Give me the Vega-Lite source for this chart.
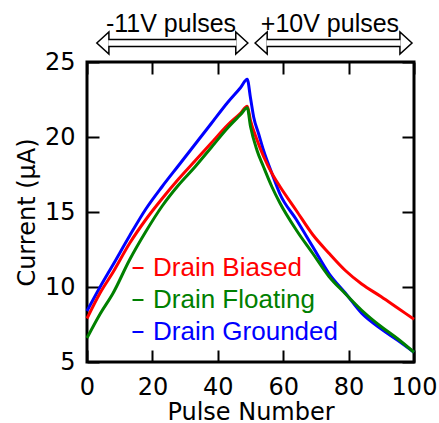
{
  "$schema": "https://vega.github.io/schema/vega-lite/v6.json",
  "width": 327,
  "height": 300,
  "autosize": {"type": "none"},
  "padding": {"left": 87, "top": 62, "right": 25, "bottom": 61},
  "background": "white",
  "config": {
    "view": {"stroke": "black", "strokeWidth": 3},
    "axis": {
      "grid": false,
      "domain": false,
      "tickColor": "black",
      "tickWidth": 2,
      "labelFont": "DejaVu Sans",
      "labelFontSize": 24,
      "labelColor": "black",
      "labelFlush": false,
      "labelOverlap": false,
      "titleFont": "DejaVu Sans",
      "titleFontSize": 24,
      "titleFontWeight": "normal",
      "titleColor": "black"
    }
  },
  "datasets": {
    "curves": [
      {"pulse": 0, "current": 8.4, "series": "Drain Grounded"},
      {"pulse": 4, "current": 10.0, "series": "Drain Grounded"},
      {"pulse": 8, "current": 11.5, "series": "Drain Grounded"},
      {"pulse": 13, "current": 13.4, "series": "Drain Grounded"},
      {"pulse": 18, "current": 15.2, "series": "Drain Grounded"},
      {"pulse": 23, "current": 16.7, "series": "Drain Grounded"},
      {"pulse": 28, "current": 18.1, "series": "Drain Grounded"},
      {"pulse": 33, "current": 19.5, "series": "Drain Grounded"},
      {"pulse": 38, "current": 20.9, "series": "Drain Grounded"},
      {"pulse": 43, "current": 22.3, "series": "Drain Grounded"},
      {"pulse": 47, "current": 23.3, "series": "Drain Grounded"},
      {"pulse": 49, "current": 23.85, "series": "Drain Grounded"},
      {"pulse": 50, "current": 22.6, "series": "Drain Grounded"},
      {"pulse": 51, "current": 21.3, "series": "Drain Grounded"},
      {"pulse": 52.5, "current": 20.2, "series": "Drain Grounded"},
      {"pulse": 54, "current": 19.1, "series": "Drain Grounded"},
      {"pulse": 56.5, "current": 17.6, "series": "Drain Grounded"},
      {"pulse": 59, "current": 16.2, "series": "Drain Grounded"},
      {"pulse": 64, "current": 14.5, "series": "Drain Grounded"},
      {"pulse": 69, "current": 12.7, "series": "Drain Grounded"},
      {"pulse": 74, "current": 10.9, "series": "Drain Grounded"},
      {"pulse": 79, "current": 9.6, "series": "Drain Grounded"},
      {"pulse": 84, "current": 8.25, "series": "Drain Grounded"},
      {"pulse": 90, "current": 7.2, "series": "Drain Grounded"},
      {"pulse": 95, "current": 6.45, "series": "Drain Grounded"},
      {"pulse": 100, "current": 5.65, "series": "Drain Grounded"},
      {"pulse": 0, "current": 7.9, "series": "Drain Biased"},
      {"pulse": 4, "current": 9.6, "series": "Drain Biased"},
      {"pulse": 8, "current": 11.0, "series": "Drain Biased"},
      {"pulse": 13, "current": 12.9, "series": "Drain Biased"},
      {"pulse": 18, "current": 14.5, "series": "Drain Biased"},
      {"pulse": 23, "current": 15.9, "series": "Drain Biased"},
      {"pulse": 28, "current": 17.2, "series": "Drain Biased"},
      {"pulse": 33, "current": 18.4, "series": "Drain Biased"},
      {"pulse": 38, "current": 19.6, "series": "Drain Biased"},
      {"pulse": 43, "current": 20.8, "series": "Drain Biased"},
      {"pulse": 47, "current": 21.6, "series": "Drain Biased"},
      {"pulse": 49, "current": 22.05, "series": "Drain Biased"},
      {"pulse": 50, "current": 21.1, "series": "Drain Biased"},
      {"pulse": 52, "current": 19.8, "series": "Drain Biased"},
      {"pulse": 54, "current": 18.7, "series": "Drain Biased"},
      {"pulse": 57, "current": 17.4, "series": "Drain Biased"},
      {"pulse": 59, "current": 16.7, "series": "Drain Biased"},
      {"pulse": 64, "current": 15.1, "series": "Drain Biased"},
      {"pulse": 69, "current": 13.5, "series": "Drain Biased"},
      {"pulse": 74, "current": 12.25, "series": "Drain Biased"},
      {"pulse": 79, "current": 11.1, "series": "Drain Biased"},
      {"pulse": 84, "current": 10.2, "series": "Drain Biased"},
      {"pulse": 90, "current": 9.35, "series": "Drain Biased"},
      {"pulse": 95, "current": 8.6, "series": "Drain Biased"},
      {"pulse": 100, "current": 7.85, "series": "Drain Biased"},
      {"pulse": 0, "current": 6.6, "series": "Drain Floating"},
      {"pulse": 4, "current": 8.2, "series": "Drain Floating"},
      {"pulse": 8, "current": 9.6, "series": "Drain Floating"},
      {"pulse": 13, "current": 11.8, "series": "Drain Floating"},
      {"pulse": 18, "current": 13.7, "series": "Drain Floating"},
      {"pulse": 23, "current": 15.4, "series": "Drain Floating"},
      {"pulse": 28, "current": 16.8, "series": "Drain Floating"},
      {"pulse": 33, "current": 18.0, "series": "Drain Floating"},
      {"pulse": 38, "current": 19.3, "series": "Drain Floating"},
      {"pulse": 43, "current": 20.6, "series": "Drain Floating"},
      {"pulse": 47, "current": 21.5, "series": "Drain Floating"},
      {"pulse": 49, "current": 21.95, "series": "Drain Floating"},
      {"pulse": 50, "current": 20.7, "series": "Drain Floating"},
      {"pulse": 52, "current": 19.1, "series": "Drain Floating"},
      {"pulse": 54, "current": 18.0, "series": "Drain Floating"},
      {"pulse": 56.5, "current": 16.7, "series": "Drain Floating"},
      {"pulse": 59, "current": 15.6, "series": "Drain Floating"},
      {"pulse": 64, "current": 13.8, "series": "Drain Floating"},
      {"pulse": 69, "current": 12.25, "series": "Drain Floating"},
      {"pulse": 74, "current": 10.7, "series": "Drain Floating"},
      {"pulse": 79, "current": 9.55, "series": "Drain Floating"},
      {"pulse": 84, "current": 8.45, "series": "Drain Floating"},
      {"pulse": 90, "current": 7.35, "series": "Drain Floating"},
      {"pulse": 95, "current": 6.55, "series": "Drain Floating"},
      {"pulse": 100, "current": 5.65, "series": "Drain Floating"}
    ],
    "arrows": [
      {"label": "-11V pulses", "tipL": 3.0, "tipR": 49.2, "shaftL": 6.5, "shaftR": 45.7, "mid": 25.7},
      {"label": "+10V pulses", "tipL": 51.4, "tipR": 99.4, "shaftL": 54.9, "shaftR": 95.9, "mid": 74.3}
    ]
  },
  "resolve": {"axis": {"x": "independent", "y": "independent"}},
  "layer": [
    {
      "data": {"name": "curves"},
      "mark": {"type": "line", "strokeWidth": 3, "interpolate": "monotone"},
      "encoding": {
        "x": {
          "field": "pulse", "type": "quantitative",
          "scale": {"domain": [0, 100], "nice": false, "zero": false},
          "axis": {"orient": "bottom", "values": [0, 20, 40, 60, 80, 100], "title": "Pulse Number", "ticks": false, "labelPadding": 13, "titlePadding": 1}
        },
        "y": {
          "field": "current", "type": "quantitative",
          "scale": {"domain": [5, 25], "nice": false, "zero": false},
          "axis": {"orient": "left", "values": [5, 10, 15, 20, 25], "title": "Current (μA)", "ticks": false, "labelPadding": 12, "titlePadding": 5}
        },
        "color": {
          "field": "series", "type": "nominal",
          "scale": {"domain": ["Drain Biased", "Drain Floating", "Drain Grounded"], "range": ["#ff0000", "#008000", "#0000ff"]},
          "legend": {
            "orient": "none", "legendX": 38, "legendY": 193, "title": null,
            "symbolType": "stroke", "symbolSize": 120, "symbolStrokeWidth": 2,
            "labelFont": "Liberation Sans", "labelFontSize": 26, "labelOffset": 2, "labelLimit": 0,
            "rowPadding": 6, "padding": 0,
            "encode": {"labels": {"update": {"fill": {"scale": "color", "field": "value"}}}}
          }
        }
      }
    },
    {
      "data": {"name": "curves"},
      "mark": {"type": "point", "opacity": 0},
      "encoding": {
        "x": {"field": "pulse", "type": "quantitative", "axis": {"orient": "bottom", "offset": -12, "tickSize": 12, "values": [0, 20, 40, 60, 80, 100], "labels": false, "title": null}},
        "y": {"field": "current", "type": "quantitative", "axis": {"orient": "left", "offset": -12, "tickSize": 12, "values": [5, 10, 15, 20, 25], "labels": false, "title": null}}
      }
    },
    {
      "data": {"name": "curves"},
      "mark": {"type": "point", "opacity": 0},
      "encoding": {
        "x": {"field": "pulse", "type": "quantitative", "axis": {"orient": "top", "offset": -12, "tickSize": 12, "values": [0, 20, 40, 60, 80, 100], "labels": false, "title": null}},
        "y": {"field": "current", "type": "quantitative", "axis": {"orient": "right", "offset": -12, "tickSize": 12, "values": [5, 10, 15, 20, 25], "labels": false, "title": null}}
      }
    },
    {
      "data": {"name": "arrows"},
      "mark": {"type": "rule", "stroke": "black", "strokeWidth": 8.5, "strokeCap": "butt"},
      "encoding": {
        "x": {"field": "shaftL", "type": "quantitative", "axis": null},
        "x2": {"field": "shaftR"},
        "y": {"datum": 26.27, "type": "quantitative", "axis": null}
      }
    },
    {
      "data": {"name": "arrows"},
      "mark": {"type": "point", "shape": "M 0 0 L 1.1 -1 L 1.1 1 Z", "size": 484, "filled": true, "fill": "white", "stroke": "black", "strokeWidth": 1.5, "opacity": 1},
      "encoding": {
        "x": {"field": "tipL", "type": "quantitative", "axis": null},
        "y": {"datum": 26.27, "type": "quantitative", "axis": null}
      }
    },
    {
      "data": {"name": "arrows"},
      "mark": {"type": "point", "shape": "M 0 0 L -1.1 -1 L -1.1 1 Z", "size": 484, "filled": true, "fill": "white", "stroke": "black", "strokeWidth": 1.5, "opacity": 1},
      "encoding": {
        "x": {"field": "tipR", "type": "quantitative", "axis": null},
        "y": {"datum": 26.27, "type": "quantitative", "axis": null}
      }
    },
    {
      "data": {"name": "arrows"},
      "mark": {"type": "rule", "stroke": "white", "strokeWidth": 5.5, "strokeCap": "butt"},
      "encoding": {
        "x": {"field": "shaftL", "type": "quantitative", "axis": null},
        "x2": {"field": "shaftR"},
        "y": {"datum": 26.27, "type": "quantitative", "axis": null}
      }
    },
    {
      "data": {"name": "arrows"},
      "mark": {"type": "text", "font": "Liberation Sans", "fontSize": 25, "align": "center", "baseline": "alphabetic", "color": "black"},
      "encoding": {
        "x": {"field": "mid", "type": "quantitative", "axis": null},
        "y": {"datum": 27.0, "type": "quantitative", "axis": null},
        "text": {"field": "label"}
      }
    }
  ]
}
